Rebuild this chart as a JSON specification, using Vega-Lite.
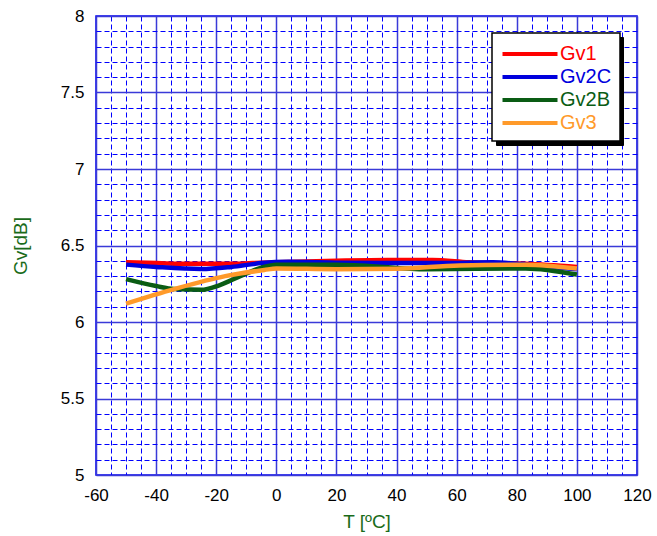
{
  "$schema": "https://vega.github.io/schema/vega-lite/v6.json",
  "width": 541,
  "height": 459,
  "autosize": "none",
  "padding": {"left": 96, "top": 16, "right": 20, "bottom": 61},
  "background": "white",
  "config": {
    "view": {"stroke": "#0000ee", "strokeWidth": 1.5},
    "font": "Liberation Sans"
  },
  "data": {
    "values": [
      {"T": -50, "Gv": 6.39, "s": "Gv1"},
      {"T": -40, "Gv": 6.385, "s": "Gv1"},
      {"T": -28, "Gv": 6.38, "s": "Gv1"},
      {"T": -15, "Gv": 6.38, "s": "Gv1"},
      {"T": -8, "Gv": 6.385, "s": "Gv1"},
      {"T": 0, "Gv": 6.39, "s": "Gv1"},
      {"T": 20, "Gv": 6.4, "s": "Gv1"},
      {"T": 37, "Gv": 6.405, "s": "Gv1"},
      {"T": 52, "Gv": 6.405, "s": "Gv1"},
      {"T": 64, "Gv": 6.39, "s": "Gv1"},
      {"T": 83, "Gv": 6.38, "s": "Gv1"},
      {"T": 100, "Gv": 6.36, "s": "Gv1"},

      {"T": -50, "Gv": 6.375, "s": "Gv2C"},
      {"T": -40, "Gv": 6.36, "s": "Gv2C"},
      {"T": -25, "Gv": 6.346, "s": "Gv2C"},
      {"T": -15, "Gv": 6.36, "s": "Gv2C"},
      {"T": -5, "Gv": 6.385, "s": "Gv2C"},
      {"T": 4, "Gv": 6.393, "s": "Gv2C"},
      {"T": 20, "Gv": 6.388, "s": "Gv2C"},
      {"T": 37, "Gv": 6.385, "s": "Gv2C"},
      {"T": 55, "Gv": 6.385, "s": "Gv2C"},
      {"T": 72, "Gv": 6.39, "s": "Gv2C"},
      {"T": 88, "Gv": 6.366, "s": "Gv2C"},
      {"T": 100, "Gv": 6.345, "s": "Gv2C"},

      {"T": -50, "Gv": 6.28, "s": "Gv2B"},
      {"T": -40, "Gv": 6.235, "s": "Gv2B"},
      {"T": -34, "Gv": 6.215, "s": "Gv2B"},
      {"T": -25, "Gv": 6.21, "s": "Gv2B"},
      {"T": -19, "Gv": 6.24, "s": "Gv2B"},
      {"T": -12, "Gv": 6.3, "s": "Gv2B"},
      {"T": -5, "Gv": 6.355, "s": "Gv2B"},
      {"T": 0, "Gv": 6.375, "s": "Gv2B"},
      {"T": 20, "Gv": 6.375, "s": "Gv2B"},
      {"T": 28, "Gv": 6.37, "s": "Gv2B"},
      {"T": 50, "Gv": 6.345, "s": "Gv2B"},
      {"T": 83, "Gv": 6.35, "s": "Gv2B"},
      {"T": 100, "Gv": 6.31, "s": "Gv2B"},

      {"T": -50, "Gv": 6.12, "s": "Gv3"},
      {"T": -34, "Gv": 6.215, "s": "Gv3"},
      {"T": -17, "Gv": 6.3, "s": "Gv3"},
      {"T": -4, "Gv": 6.34, "s": "Gv3"},
      {"T": 0, "Gv": 6.35, "s": "Gv3"},
      {"T": 20, "Gv": 6.345, "s": "Gv3"},
      {"T": 40, "Gv": 6.348, "s": "Gv3"},
      {"T": 61, "Gv": 6.37, "s": "Gv3"},
      {"T": 83, "Gv": 6.375, "s": "Gv3"},
      {"T": 100, "Gv": 6.35, "s": "Gv3"}
    ]
  },
  "mark": {"type": "line", "strokeWidth": 4.5, "interpolate": "monotone"},
  "encoding": {
    "x": {
      "field": "T", "type": "quantitative",
      "scale": {"domain": [-60, 120], "nice": false, "zero": false},
      "axis": {
        "title": "T [ºC]",
        "titleColor": "#1a6b1a",
        "titleFont": "Liberation Sans",
        "titleFontSize": 19,
        "titleFontWeight": "normal",
        "titlePadding": 9,
        "values": [-60,-55,-50,-45,-40,-35,-30,-25,-20,-15,-10,-5,0,5,10,15,20,25,30,35,40,45,50,55,60,65,70,75,80,85,90,95,100,105,110,115,120],
        "labelExpr": "datum.value % 20 === 0 ? '' + datum.value : ''",
        "labelFontSize": 17,
        "labelColor": "black",
        "labelPadding": 12,
        "labelFlush": false,
        "labelOverlap": false,
        "ticks": false,
        "domain": false,
        "grid": true,
        "gridColor": {"condition": {"test": "datum.value % 20 === 0", "value": "#3a3ad8"}, "value": "#0000ff"},
        "gridWidth": {"condition": {"test": "datum.value % 20 === 0", "value": 1.5}, "value": 1},
        "gridDash": {"condition": {"test": "datum.value % 20 === 0", "value": []}, "value": [5, 3]},
        "gridOpacity": 1
      }
    },
    "y": {
      "field": "Gv", "type": "quantitative",
      "scale": {"domain": [5, 8], "nice": false, "zero": false},
      "axis": {
        "title": "Gv[dB]",
        "titleColor": "#1a6b1a",
        "titleFont": "Liberation Sans",
        "titleFontSize": 19,
        "titleFontWeight": "normal",
        "titlePadding": 30,
        "values": [5,5.1,5.2,5.3,5.4,5.5,5.6,5.7,5.8,5.9,6,6.1,6.2,6.3,6.4,6.5,6.6,6.7,6.8,6.9,7,7.1,7.2,7.3,7.4,7.5,7.6,7.7,7.8,7.9,8],
        "labelExpr": "abs(datum.value*2 - round(datum.value*2)) < 0.001 ? format(datum.value, '~g') : ''",
        "labelFontSize": 17,
        "labelColor": "black",
        "labelPadding": 12,
        "labelFlush": false,
        "labelOverlap": false,
        "ticks": false,
        "domain": false,
        "grid": true,
        "gridColor": {"condition": {"test": "abs(datum.value*2 - round(datum.value*2)) < 0.001", "value": "#3a3ad8"}, "value": "#0000ff"},
        "gridWidth": {"condition": {"test": "abs(datum.value*2 - round(datum.value*2)) < 0.001", "value": 1.5}, "value": 1},
        "gridDash": {"condition": {"test": "abs(datum.value*2 - round(datum.value*2)) < 0.001", "value": []}, "value": [5, 3]},
        "gridOpacity": 1
      }
    },
    "color": {
      "field": "s", "type": "nominal",
      "scale": {"domain": ["Gv1", "Gv2C", "Gv2B", "Gv3"], "range": ["#ff0000", "#0000dd", "#0a5c14", "#ff9a2a"]},
      "legend": {
        "title": null,
        "orient": "none",
        "legendX": 396,
        "legendY": 17,
        "zindex": 2,
        "symbolType": "M-2.5,0H2.5",
        "symbolSize": 484,
        "symbolOffset": 17,
        "symbolStrokeWidth": 4,
        "labelFontSize": 20,
        "labelFont": "Liberation Sans",
        "labelOffset": 17,
        "strokeColor": "black",
        "fillColor": "white",
        "padding": 8,
        "rowPadding": -1,
        "encode": {
          "labels": {"update": {"fill": {"scale": "color", "field": "value"}}},
          "legend": {"update": {"strokeWidth": {"value": 1.5}}}
        }
      }
    },
    "opacity": {
      "field": "s", "type": "nominal",
      "scale": {"domain": ["Gv3", "Gv2B", "Gv2C", "Gv1"], "range": [1, 1, 1, 1]},
      "legend": {
        "title": null,
        "orient": "none",
        "legendX": 400,
        "legendY": 21,
        "zindex": 1,
        "symbolType": "M-2.5,0H2.5",
        "symbolSize": 484,
        "symbolOffset": 17,
        "symbolStrokeWidth": 4,
        "symbolStrokeColor": "black",
        "symbolFillColor": "black",
        "labelExpr": "''",
        "labelFontSize": 20,
        "labelFont": "Liberation Sans",
        "labelOffset": 68,
        "labelColor": "black",
        "strokeColor": "black",
        "fillColor": "black",
        "padding": 8,
        "rowPadding": -1
      }
    }
  }
}
